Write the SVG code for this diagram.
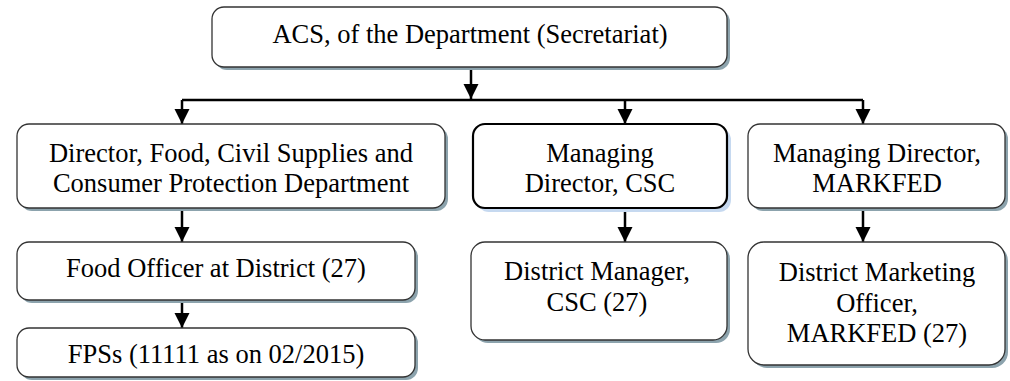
<svg xmlns="http://www.w3.org/2000/svg" width="1010" height="381" viewBox="0 0 1010 381">
<defs>
<marker id="ah" markerUnits="userSpaceOnUse" markerWidth="15" markerHeight="16" refX="15" refY="7.5" orient="auto" viewBox="0 0 15 15">
<path d="M0,0 L15,7.5 L0,15 z" fill="#000"/>
</marker>
</defs>
<style>
.sh{fill:#8ca3ad}
.shb{fill:#c6d9f0}
.bx{fill:#fff;stroke:#333;stroke-width:1.3}
.bxk{fill:#fff;stroke:#000;stroke-width:2.2}
text{fill:#000;text-anchor:middle}
.c{fill:none;stroke:#000;stroke-width:2.5}
</style>
<g id="connectors">
<path class="c" d="M471,67 V99" marker-end="url(#ah)"/>
<path class="c" d="M182,100 H863"/>
<path class="c" d="M182,100 V124" marker-end="url(#ah)"/>
<path class="c" d="M625,100 V124" marker-end="url(#ah)"/>
<path class="c" d="M863,100 V124" marker-end="url(#ah)"/>
<path class="c" d="M182,209 V242" marker-end="url(#ah)"/>
<path class="c" d="M182,301 V328" marker-end="url(#ah)"/>
<path class="c" d="M625,209 V242" marker-end="url(#ah)"/>
<path class="c" d="M863,209 V242" marker-end="url(#ah)"/>
</g>
<g font-family="Liberation Serif, Times New Roman, serif" font-size="26.5">
<g id="n-acs">
<rect class="sh" x="215" y="10" width="515" height="60" rx="12"/>
<rect class="bx" x="212" y="7" width="515" height="60" rx="12"/>
<text x="470" y="43">ACS, of the Department (Secretariat)</text>
</g>
<g id="n-director">
<rect class="sh" x="20" y="127" width="428" height="84" rx="12"/>
<rect class="bx" x="17" y="124" width="428" height="84" rx="12"/>
<text x="231" y="162">Director, Food, Civil Supplies and</text>
<text x="231" y="192">Consumer Protection Department</text>
</g>
<g id="n-foodofficer">
<rect class="sh" x="20" y="245" width="398" height="58" rx="12"/>
<rect class="bx" x="17" y="242" width="398" height="58" rx="12"/>
<text x="216" y="277">Food Officer at District (27)</text>
</g>
<g id="n-fps">
<rect class="sh" x="20" y="331" width="398" height="49" rx="12"/>
<rect class="bx" x="17" y="328" width="398" height="49" rx="12"/>
<text x="216" y="363">FPSs (11111 as on 02/2015)</text>
</g>
<g id="n-md-csc">
<rect class="shb" x="477" y="128" width="254" height="84" rx="12"/>
<rect class="bxk" x="473" y="124" width="254" height="84" rx="12"/>
<text x="600" y="162">Managing</text>
<text x="600" y="192">Director, CSC</text>
</g>
<g id="n-md-markfed">
<rect class="sh" x="751" y="127" width="257" height="84" rx="12"/>
<rect class="bx" x="748" y="124" width="257" height="84" rx="12"/>
<text x="877" y="162">Managing Director,</text>
<text x="877" y="192">MARKFED</text>
</g>
<g id="n-dm-csc">
<rect class="sh" x="474" y="245" width="256" height="98" rx="14"/>
<rect class="bx" x="471" y="242" width="256" height="98" rx="14"/>
<text x="597" y="280">District Manager,</text>
<text x="597" y="311">CSC (27)</text>
</g>
<g id="n-dmo">
<rect class="sh" x="751" y="245" width="257" height="123" rx="16"/>
<rect class="bx" x="748" y="242" width="257" height="123" rx="16"/>
<text x="877" y="281">District Marketing</text>
<text x="877" y="312">Officer,</text>
<text x="877" y="342">MARKFED (27)</text>
</g>
</g>
</svg>
